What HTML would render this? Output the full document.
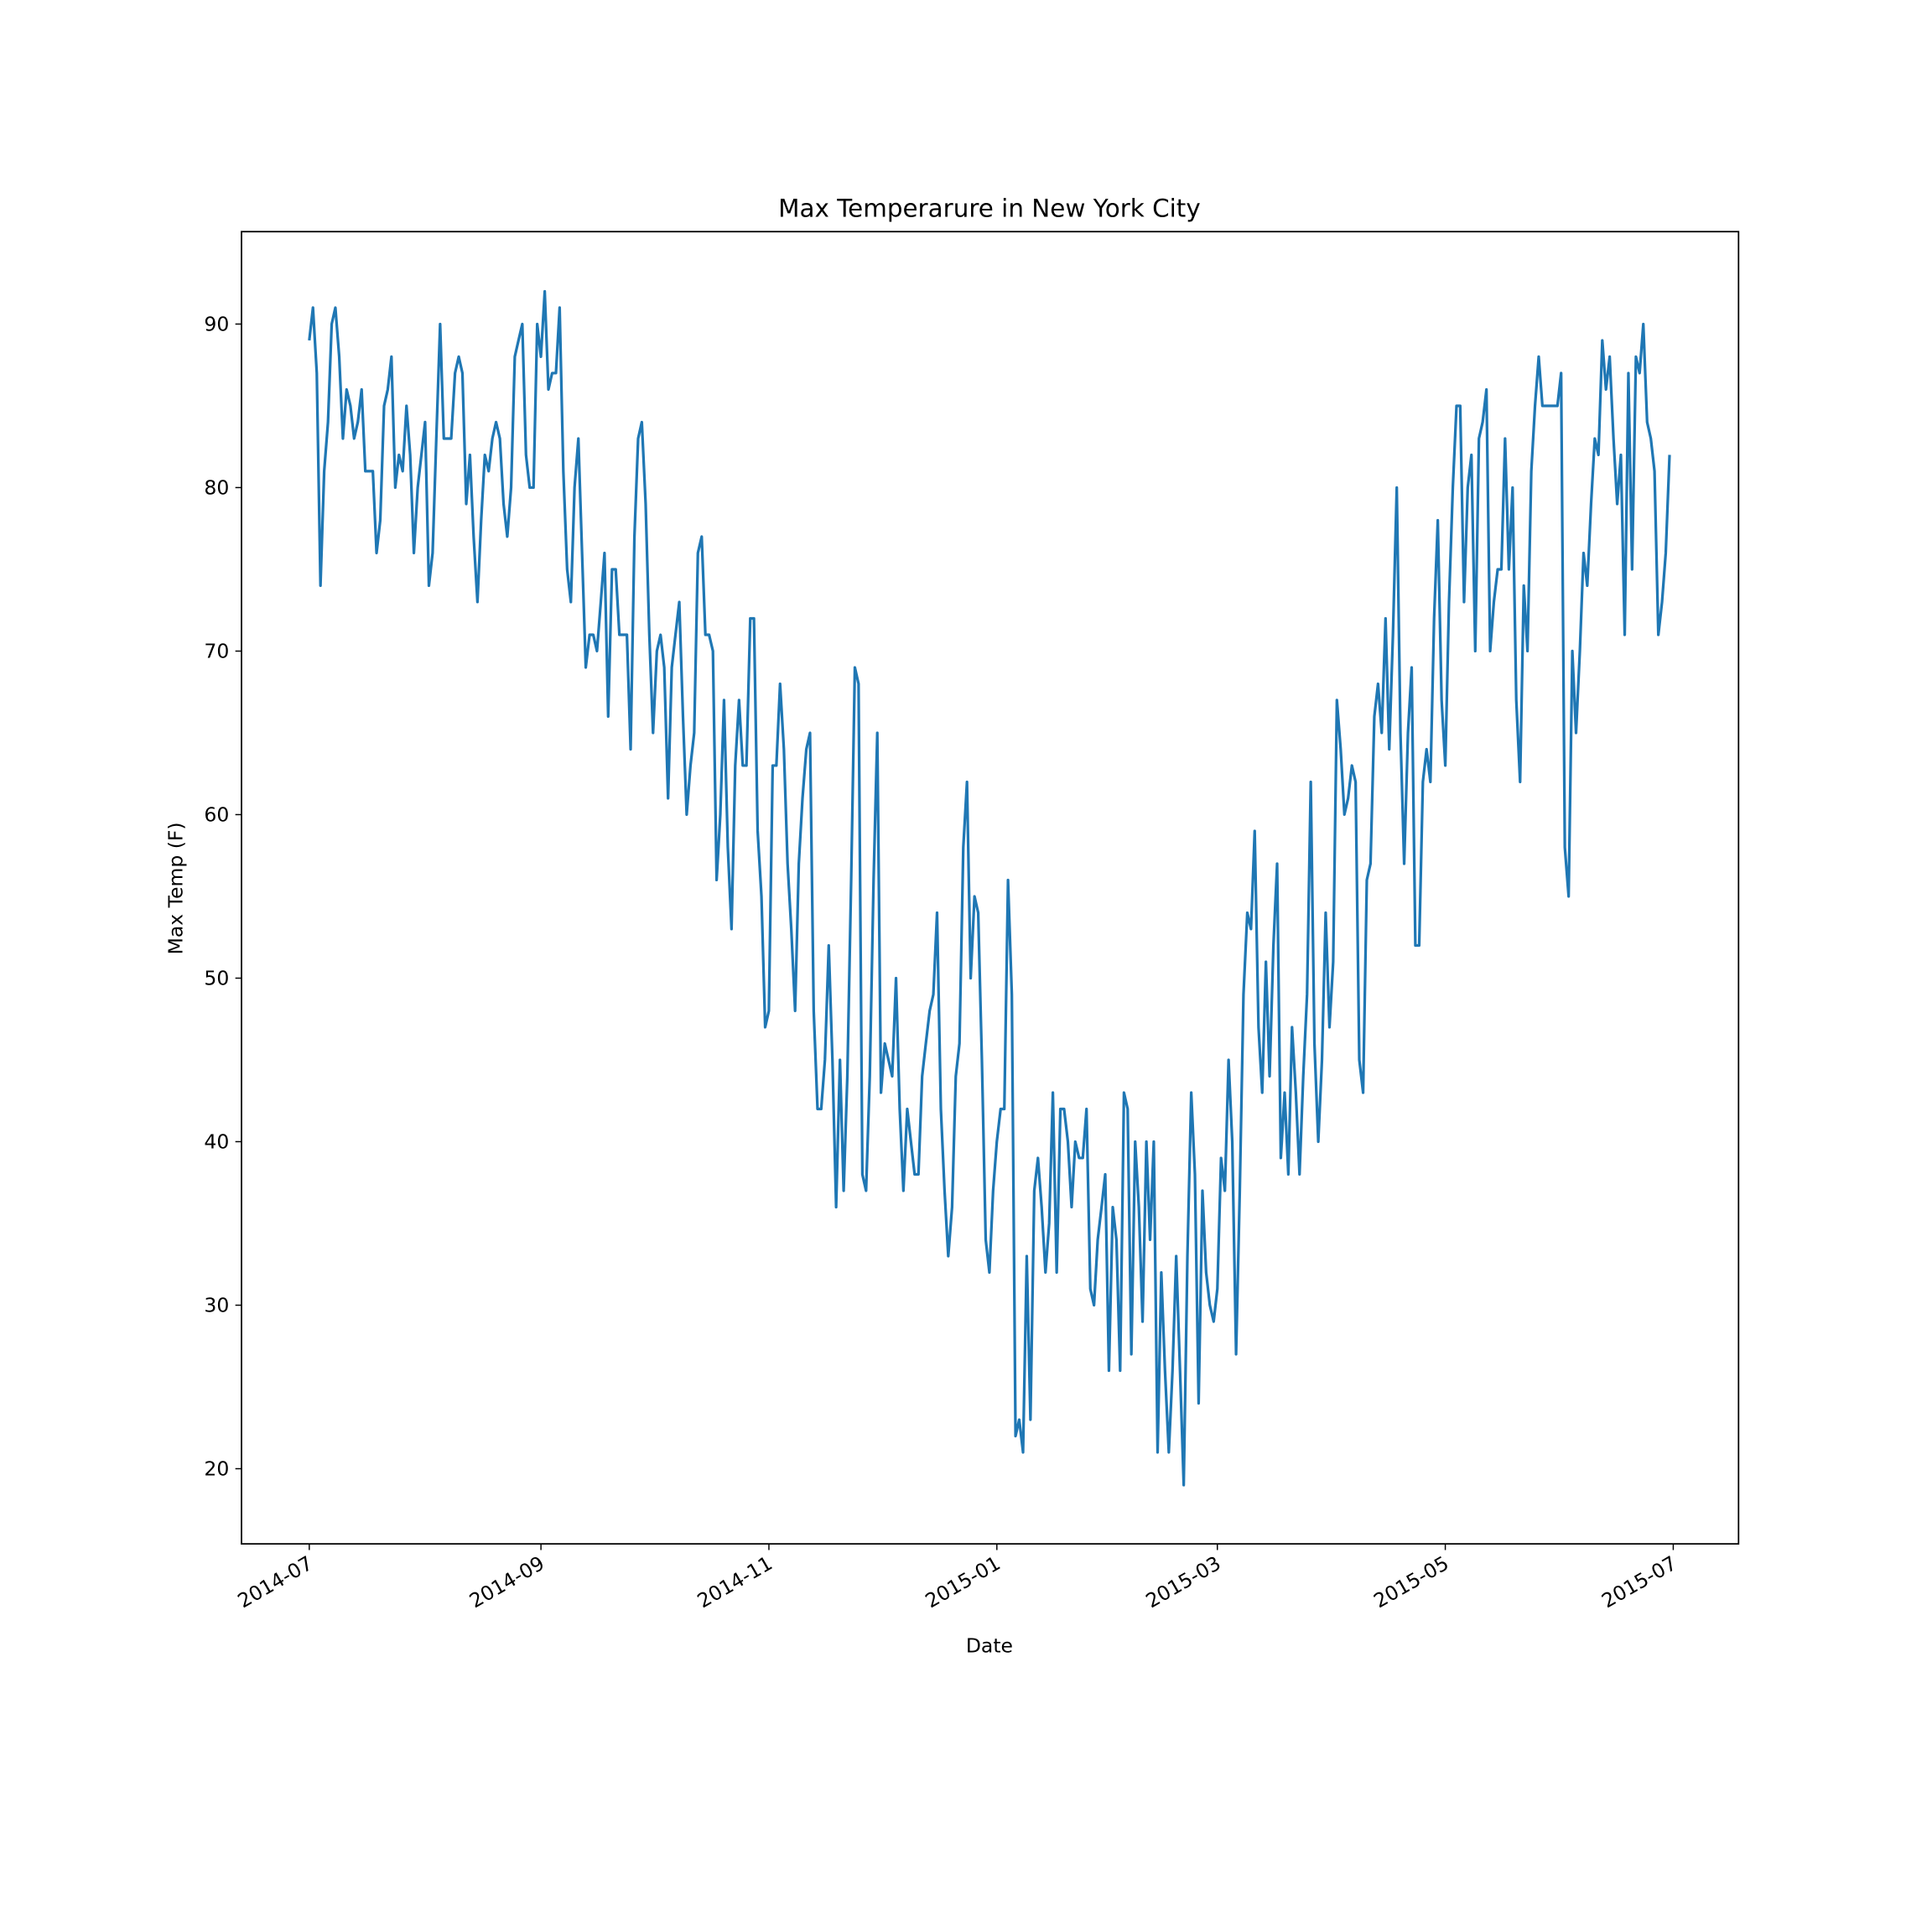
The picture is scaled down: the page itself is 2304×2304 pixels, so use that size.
<!DOCTYPE html>
<html><head><meta charset="utf-8"><style>
html,body{margin:0;padding:0;background:#fff}
svg{display:block}
text{font-family:"DejaVu Sans","Liberation Sans",sans-serif;fill:#000}
</style></head><body>
<svg id="s" width="2304" height="2304" viewBox="0 0 1568 1568" xmlns="http://www.w3.org/2000/svg">
<rect x="0" y="0" width="1568" height="1568" fill="#fff"/>
<polyline id="pl" fill="none" stroke="#1f77b4" stroke-width="2.2" stroke-linejoin="round" points=""/>
<rect x="196" y="188" width="1215" height="1065" fill="none" stroke="#000" stroke-width="1.2"/>
<text x="803" y="176" font-size="20" text-anchor="middle">Max Temperarure in New York City</text>
<text x="803" y="1341" font-size="16" text-anchor="middle">Date</text>
<text transform="translate(148,721) rotate(-90)" font-size="16" text-anchor="middle">Max Temp (F)</text>
<g id="ticks"></g>
</svg>
<script>
var T=[89,91,87,74,81,84,90,91,88,83,86,85,83,84,86,81,81,81,76,78,85,86,88,80,82,81,85,82,76,80,82,
84,74,76,83,90,83,83,83,87,88,87,79,82,77,73,78,82,81,83,84,83,79,77,80,88,89,90,82,80,80,90,
88,92,86,87,87,91,81,75,73,80,83,76,69,71,71,70,73,76,66,75,75,71,71,71,64,77,83,84,79,71,
65,70,71,69,61,69,71,73,66,60,63,65,76,77,71,71,70,56,60,67,58,53,63,67,63,63,72,72,59,55,47,
48,63,63,68,64,57,53,48,57,61,64,65,48,42,42,45,52,45,36,45,37,44,56,69,68,38,37,44,56,65,43,
46,45,44,50,42,37,42,40,38,38,44,46,48,49,54,42,37,33,36,44,46,58,62,50,55,54,45,34,32,37,40,
42,42,56,49,22,23,21,33,23,37,39,36,32,35,43,32,42,42,40,36,40,39,39,42,31,30,34,36,38,26,36,
34,26,43,42,27,40,36,29,40,34,40,21,32,26,21,26,33,26,19,33,43,38,24,37,32,30,29,31,
39,37,45,40,27,37,49,54,53,59,47,43,51,44,52,57,39,43,38,47,43,38,44,49,62,46,40,45,54,47,51,
67,64,60,61,63,62,45,43,56,57,66,68,65,72,64,71,80,65,57,65,69,52,52,62,64,62,72,78,67,63,
73,80,85,85,73,80,82,70,83,84,86,70,73,75,75,83,75,80,67,62,74,70,81,85,88,85,85,85,85,85,87,
58,55,70,65,70,76,74,79,83,82,89,86,88,83,79,82,71,87,75,88,87,90,84,83,81,71,73,76,82];
var N=T.length-1;
var px=function(d){return 251+d*(1107/365)*(364/N)}, py=function(t){return 263+(90-t)*(929/70)};
var pxd=function(d){return 251+d*(1107/365)};
document.getElementById('pl').setAttribute('points',T.map(function(t,i){return px(i).toFixed(1)+','+py(t).toFixed(1)}).join(' '));
var g=document.getElementById('ticks'),h='';
for(var t=20;t<=90;t+=10){var y=py(t);h+='<line x1="191" y1="'+y+'" x2="196" y2="'+y+'" stroke="#000" stroke-width="1"/><text x="186" y="'+(y+5.5)+'" font-size="16" text-anchor="end">'+t+'</text>';}
var xs=[[0,'2014-07'],[62,'2014-09'],[123,'2014-11'],[184,'2015-01'],[243,'2015-03'],[304,'2015-05'],[365,'2015-07']];
xs.forEach(function(a){var x=pxd(a[0]);h+='<line x1="'+x+'" y1="1253" x2="'+x+'" y2="1258" stroke="#000" stroke-width="1"/><text transform="translate('+(x+4)+',1272) rotate(-30)" font-size="16" text-anchor="end">'+a[1]+'</text>';});
g.innerHTML=h;
</script>
</body></html>
